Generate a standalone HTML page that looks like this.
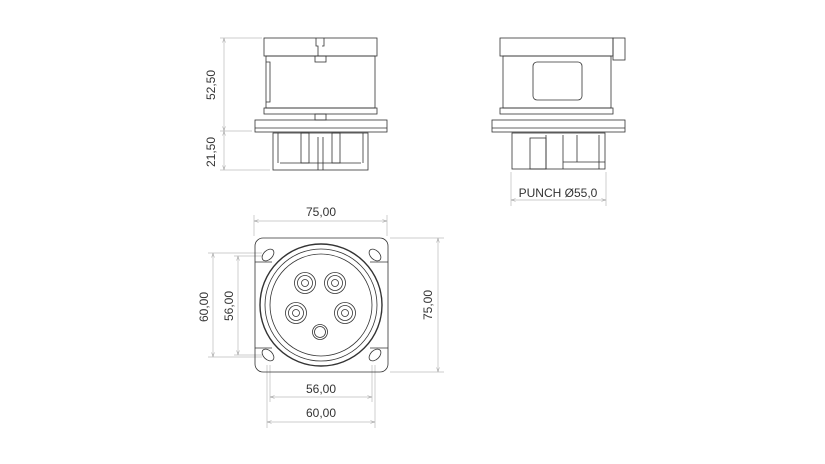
<!DOCTYPE html>
<html><head><meta charset="utf-8"><style>
html,body{margin:0;padding:0;background:#fff;width:825px;height:464px;overflow:hidden}
svg{display:block}
text{font-family:"Liberation Sans",sans-serif;font-size:12px;fill:#333}
</style></head><body>
<svg width="825" height="464" viewBox="0 0 825 464">
<defs>
<marker id="a" viewBox="0 0 10 6" refX="10" refY="3" markerWidth="8" markerHeight="4" orient="auto-start-reverse"><path d="M0,0 L10,3 L0,6" fill="none" stroke="#999" stroke-width="1"/></marker>
</defs>
<g fill="none" stroke="#bbb" stroke-width="0.7">
<line x1="224" y1="38" x2="224" y2="131" marker-start="url(#a)" marker-end="url(#a)"/>
<line x1="224" y1="131" x2="224" y2="170" marker-start="url(#a)" marker-end="url(#a)"/>
<line x1="220" y1="38" x2="262" y2="38"/><line x1="220" y1="131" x2="252" y2="131"/><line x1="220" y1="170" x2="270" y2="170"/>
<line x1="511" y1="200" x2="606" y2="200" marker-start="url(#a)" marker-end="url(#a)"/>
<line x1="511" y1="172" x2="511" y2="206"/><line x1="606" y1="172" x2="606" y2="206"/>
<line x1="254" y1="221" x2="387" y2="221" marker-start="url(#a)" marker-end="url(#a)"/>
<line x1="254" y1="215" x2="254" y2="236"/><line x1="387" y1="215" x2="387" y2="236"/>
<line x1="438" y1="238" x2="438" y2="372" marker-start="url(#a)" marker-end="url(#a)"/>
<line x1="390" y1="238" x2="444" y2="238"/><line x1="390" y1="372" x2="444" y2="372"/>
<line x1="213" y1="253" x2="213" y2="357" marker-start="url(#a)" marker-end="url(#a)"/>
<line x1="208" y1="253" x2="262" y2="253"/><line x1="208" y1="357" x2="262" y2="357"/>
<line x1="238" y1="256" x2="238" y2="355" marker-start="url(#a)" marker-end="url(#a)"/>
<line x1="234" y1="256" x2="262" y2="256"/><line x1="234" y1="355" x2="262" y2="355"/>
<line x1="270" y1="397" x2="372" y2="397" marker-start="url(#a)" marker-end="url(#a)"/>
<line x1="270" y1="365" x2="270" y2="402"/><line x1="372" y1="365" x2="372" y2="402"/>
<line x1="267" y1="422" x2="375" y2="422" marker-start="url(#a)" marker-end="url(#a)"/>
<line x1="267" y1="365" x2="267" y2="428"/><line x1="375" y1="365" x2="375" y2="428"/>
</g>
<g fill="none" stroke="#333" stroke-width="0.8">
<rect x="264" y="38" width="113" height="18"/>
<path d="M316,38v8h2v10M324,38v8h-2"/><rect x="315" y="56" width="11" height="6"/>
<rect x="266" y="56" width="109" height="52"/>
<path d="M266,62h4v40h-4"/>
<rect x="264" y="108" width="113" height="6"/>
<rect x="315" y="114" width="11" height="6"/>
<rect x="255" y="120" width="132" height="12"/>
<line x1="255" y1="128" x2="387" y2="128"/>
<rect x="273" y="133" width="95" height="37"/>
<line x1="278" y1="133" x2="278" y2="163"/><line x1="363" y1="133" x2="363" y2="163"/>
<line x1="280" y1="163" x2="361" y2="163"/>
<rect x="301" y="133" width="8" height="30"/><rect x="332" y="133" width="8" height="30"/>
<line x1="318" y1="137" x2="318" y2="170"/><line x1="323" y1="137" x2="323" y2="170"/>
<rect x="500" y="38" width="113" height="18"/>
<rect x="613" y="38" width="12" height="22"/>
<rect x="503" y="56" width="108" height="52"/>
<rect x="533" y="62" width="49" height="38" rx="4"/>
<rect x="500" y="108" width="113" height="6"/>
<rect x="492" y="120" width="133" height="12"/>
<line x1="492" y1="128" x2="625" y2="128"/>
<rect x="512" y="133" width="93" height="36"/>
<rect x="530" y="138" width="16" height="31"/>
<line x1="546" y1="135" x2="546" y2="169"/><line x1="563" y1="135" x2="563" y2="169"/>
<line x1="577" y1="135" x2="577" y2="162"/><line x1="563" y1="162" x2="605" y2="162"/>
<line x1="599" y1="135" x2="599" y2="169"/>
<rect x="255" y="238" width="133" height="134" rx="8"/>
<circle cx="321" cy="305" r="61" stroke-width="1.4"/>
<circle cx="321" cy="305" r="56"/>
<circle cx="321" cy="305" r="51"/>
<g transform="translate(268,255) rotate(-45)"><ellipse rx="7" ry="4.5"/></g>
<g transform="translate(375,255) rotate(45)"><ellipse rx="7" ry="4.5"/></g>
<g transform="translate(268,355) rotate(45)"><ellipse rx="7" ry="4.5"/></g>
<g transform="translate(375,355) rotate(-45)"><ellipse rx="7" ry="4.5"/></g>
<line x1="255" y1="262" x2="272" y2="262"/><line x1="370" y1="262" x2="388" y2="262"/>
<line x1="255" y1="348" x2="272" y2="348"/><line x1="370" y1="348" x2="388" y2="348"/>
<circle cx="305" cy="283" r="10.5"/><circle cx="305" cy="283" r="7.5"/><circle cx="305" cy="283" r="3.5"/>
<circle cx="335" cy="283" r="10.5"/><circle cx="335" cy="283" r="7.5"/><circle cx="335" cy="283" r="3.5"/>
<circle cx="296" cy="313" r="10.5"/><circle cx="296" cy="313" r="7.5"/><circle cx="296" cy="313" r="3.5"/>
<circle cx="345" cy="313" r="10.5"/><circle cx="345" cy="313" r="7.5"/><circle cx="345" cy="313" r="3.5"/>
<circle cx="320" cy="332" r="7.5"/><circle cx="320" cy="332" r="5.5"/>
</g>
<text x="215" y="85" text-anchor="middle" transform="rotate(-90 215 85)">52,50</text>
<text x="215" y="152" text-anchor="middle" transform="rotate(-90 215 152)">21,50</text>
<text x="558" y="197" text-anchor="middle">PUNCH Ø55,0</text>
<text x="321" y="216" text-anchor="middle">75,00</text>
<text x="432" y="305" text-anchor="middle" transform="rotate(-90 432 305)">75,00</text>
<text x="208" y="307" text-anchor="middle" transform="rotate(-90 208 307)">60,00</text>
<text x="233" y="306" text-anchor="middle" transform="rotate(-90 233 306)">56,00</text>
<text x="321" y="393" text-anchor="middle">56,00</text>
<text x="321" y="417" text-anchor="middle">60,00</text>
</svg>
</body></html>
